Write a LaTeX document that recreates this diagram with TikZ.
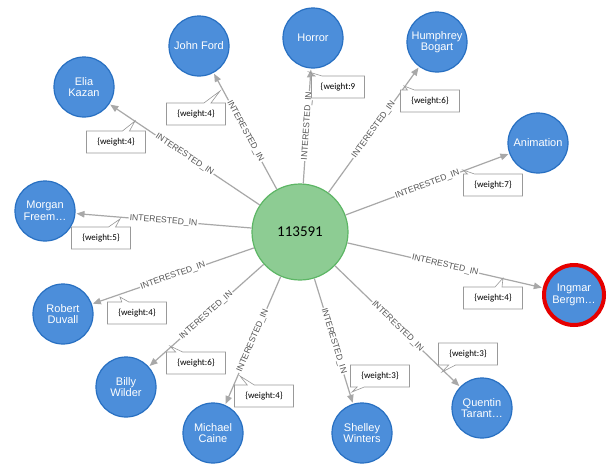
\documentclass[tikz,border=0pt]{standalone}
\usepackage{fontspec}
\setmainfont{Liberation Sans}
\newfontfamily\calib{Carlito}
\usetikzlibrary{arrows.meta,shapes.callouts}
\definecolor{nodeblue}{HTML}{4C8EDA}
\definecolor{nodeblueb}{HTML}{2870C2}
\definecolor{nodegreen}{HTML}{8DCC93}
\definecolor{nodegreenb}{HTML}{5DB665}
\definecolor{relgray}{HTML}{A8A8A8}
\definecolor{labgray}{HTML}{555555}

\begin{document}
\begin{tikzpicture}[x=1pt,y=-1pt,
    person/.style={circle,fill=nodeblue,draw=nodeblueb,line width=1.2pt,minimum size=60pt,inner sep=0pt,
        text=white,align=center,font=\fontsize{11}{11.5}\selectfont},
    user/.style={circle,fill=nodegreen,draw=nodegreenb,line width=1.2pt,minimum size=96pt,
        font=\calib\fontsize{15}{18}\selectfont},
    rel/.style={draw=relgray,line width=1.2pt,-{Triangle[length=8pt,width=6.5pt]},shorten >=1pt},
    rellabel/.style={sloped,fill=white,inner sep=1pt,text=labgray,font=\fontsize{8.6}{9}\selectfont},
    weightbox/.style={rectangle callout,draw=gray!80,fill=white,line width=.6pt,minimum width=59pt,
        minimum height=22pt,inner sep=1pt,callout pointer width=7pt,font=\calib\fontsize{9}{10}\selectfont}]
    \fill[white] (0,0) rectangle (609,463);
    \useasboundingbox (0,0) rectangle (609,463);

    % nodes
    \node[user] (c) at (300,232) {113591};
    \node[person] (ford) at (199,46) {John Ford};
    \node[person] (kazan) at (84,87) {Elia\\Kazan};
    \node[person] (horror) at (313,38) {Horror};
    \node[person] (bogart) at (437,42) {Humphrey\\Bogart};
    \node[person] (anim) at (538,143) {Animation};
    \node[person] (freeman) at (45,211) {Morgan\\Freem…};
    \node[person] (duvall) at (63,314) {Robert\\Duvall};
    \node[person] (wilder) at (126,387) {Billy\\Wilder};
    \node[person] (caine) at (213,433) {Michael\\Caine};
    \node[person] (winters) at (362,433) {Shelley\\Winters};
    \node[person] (tarant) at (482,408) {Quentin\\Tarant…};
    \node[person,draw=red!90!black,line width=4pt] (bergman) at (574,295) {Ingmar\\Bergm…};

    % relationships
    \foreach \t in {ford,kazan,horror,bogart,anim,freeman,duvall,wilder,caine,winters,tarant,bergman}
        \draw[rel] (c) -- node[rellabel] (l\t) {INTERESTED\_IN} (\t);

    % weights
    \node[weightbox,callout absolute pointer={(220,91)}] (wford) at (196,114) {\{weight:4\}};
    \node[weightbox,callout absolute pointer={(135,121)}] (wkazan) at (116,142) {\{weight:4\}};
    \node[weightbox,minimum width=53pt,callout absolute pointer={(309,72)}] (whorror) at (338,87) {\{weight:9};
    \node[weightbox,callout absolute pointer={(404,86)}] (wbogart) at (430,101) {\{weight:6\}};
    \node[weightbox,callout absolute pointer={(463,170)}] (wanim) at (493,185) {\{weight:7\}};
    \node[weightbox,callout absolute pointer={(120,219)}] (wfreeman) at (101,238) {\{weight:5\}};
    \node[weightbox,callout absolute pointer={(120,297)}] (wduvall) at (137,313) {\{weight:4\}};
    \node[weightbox,callout absolute pointer={(170,346)}] (wwilder) at (196,363) {\{weight:6\}};
    \node[weightbox,callout absolute pointer={(240,376)}] (wcaine) at (264,396) {\{weight:4\}};
    \node[weightbox,callout absolute pointer={(352,392)}] (wwinters) at (380,376) {\{weight:3\}};
    \node[weightbox,callout absolute pointer={(442,372)}] (wtarant) at (468,354) {\{weight:3\}};
    \node[weightbox,callout absolute pointer={(503,278)}] (wbergman) at (493,298) {\{weight:4\}};
\end{tikzpicture}
\end{document}
